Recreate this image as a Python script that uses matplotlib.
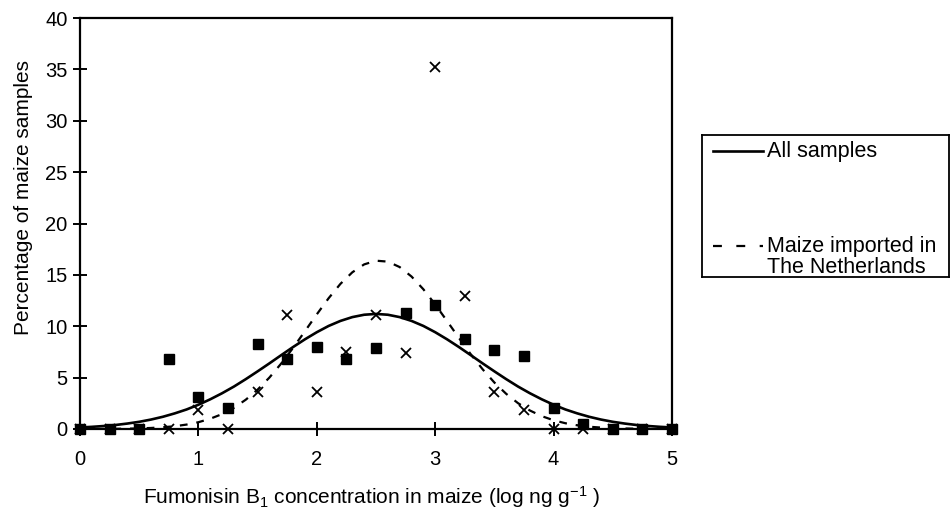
import matplotlib
matplotlib.use('Agg')
import matplotlib.pyplot as plt
from matplotlib.lines import Line2D

plt.rcParams['font.family'] = ['Liberation Sans', 'DejaVu Sans']
plt.rcParams['mathtext.fontset'] = 'custom'
plt.rcParams['mathtext.rm'] = 'Liberation Sans'
plt.rcParams['mathtext.default'] = 'regular'

# concentration classes (log ng/g) and observed percentages
conc_classes = [0, 0.25, 0.5, 0.75, 1.0, 1.25, 1.5, 1.75, 2.0, 2.25, 2.5,
                2.75, 3.0, 3.25, 3.5, 3.75, 4.0, 4.25, 4.5, 4.75, 5.0]
pct_all = [0, 0, 0, 6.8, 3.1, 2.0, 8.3, 6.8, 8.0, 6.8, 7.9,
           11.3, 12.1, 8.8, 7.7, 7.1, 2.0, 0.5, 0, 0, 0]
pct_nl = [0, 0, 0, 0, 1.85, 0, 3.6, 11.1, 3.6, 7.5, 11.1,
          7.4, 35.2, 12.9, 3.6, 1.85, 0, 0, 0, 0, 0]

# fitted distributions
curve_x = [0.0, 0.1, 0.2, 0.3, 0.4, 0.5, 0.6, 0.7, 0.8, 0.9,
           1.0, 1.1, 1.2, 1.3, 1.4, 1.5, 1.6, 1.7, 1.8, 1.9,
           2.0, 2.1, 2.2, 2.3, 2.4, 2.5, 2.6, 2.7, 2.8, 2.9,
           3.0, 3.1, 3.2, 3.3, 3.4, 3.5, 3.6, 3.7, 3.8, 3.9,
           4.0, 4.1, 4.2, 4.3, 4.4, 4.5, 4.6, 4.7, 4.8, 4.9, 5.0]
fit_all = [0.15, 0.21, 0.29, 0.39, 0.53, 0.70, 0.92, 1.19, 1.52, 1.90,
           2.36, 2.89, 3.48, 4.13, 4.85, 5.61, 6.39, 7.19, 7.98, 8.73,
           9.42, 10.03, 10.52, 10.89, 11.12, 11.20, 11.12, 10.89, 10.52, 10.03,
           9.42, 8.73, 7.98, 7.19, 6.39, 5.61, 4.85, 4.13, 3.48, 2.89,
           2.36, 1.90, 1.52, 1.19, 0.92, 0.70, 0.53, 0.39, 0.29, 0.21, 0.15]
fit_nl = [0.00, 0.01, 0.01, 0.02, 0.03, 0.06, 0.10, 0.17, 0.27, 0.43,
          0.66, 1.00, 1.45, 2.06, 2.85, 3.83, 5.01, 6.38, 7.90, 9.52,
          11.16, 12.73, 14.13, 15.25, 16.02, 16.38, 16.29, 15.76, 14.84, 13.60,
          12.12, 10.51, 8.87, 7.28, 5.82, 4.52, 3.42, 2.51, 1.80, 1.25,
          0.85, 0.56, 0.36, 0.22, 0.14, 0.08, 0.05, 0.03, 0.01, 0.01, 0.00]

TICK_FS = 14.5
LABEL_FS = 15
LEG_FS = 15.5

fig = plt.figure(figsize=(9.51, 5.13), dpi=100)
ax = fig.add_axes([80 / 951, 1 - 429 / 513, 592 / 951, 411 / 513])

ax.plot(curve_x, fit_all, color='black', lw=1.9, solid_capstyle='round')
ax.plot(curve_x, fit_nl, color='black', lw=1.6, linestyle=(0, (3.5, 4)))
ax.plot(conc_classes, pct_all, linestyle='none', marker='s', ms=6.5,
        color='black', clip_on=False, zorder=3)
ax.plot(conc_classes, pct_nl, linestyle='none', marker='x', ms=7,
        mew=1.3, color='black', clip_on=False, zorder=3)

ax.set_xlim(0, 5)
ax.set_ylim(0, 40)
ax.set_xticks(range(0, 6))
ax.set_yticks(range(0, 41, 5))
ax.tick_params(axis='both', direction='inout', length=10, width=1.4,
               labelsize=TICK_FS)
ax.tick_params(axis='x', pad=10)
ax.tick_params(axis='y', pad=4)
for sp in ax.spines.values():
    sp.set_linewidth(1.6)

ax.set_ylabel('Percentage of maize samples', fontsize=LABEL_FS)
ax.yaxis.set_label_coords(-0.079, 0.564)
ax.set_xlabel('Fumonisin B$_1$ concentration in maize (log ng g$^{-1}$ )',
              fontsize=LABEL_FS)
ax.xaxis.set_label_coords(0.493, -0.135)

# legend box
lg = fig.add_axes([702 / 951, 1 - 277 / 513, 247 / 951, 142 / 513])
lg.set_xlim(0, 1)
lg.set_ylim(0, 1)
lg.set_xticks([])
lg.set_yticks([])
for sp in lg.spines.values():
    sp.set_linewidth(1.3)
lg.add_line(Line2D([0.043, 0.247], [0.885, 0.885], color='black', lw=1.9))
lg.add_line(Line2D([0.043, 0.247], [0.215, 0.215], color='black', lw=1.6,
                   linestyle=(0, (4, 6.5))))
lg.text(0.265, 0.885, 'All samples', fontsize=LEG_FS, va='center', ha='left')
lg.text(0.265, 0.215, 'Maize imported in', fontsize=LEG_FS, va='center',
        ha='left')
lg.text(0.265, 0.065, 'The Netherlands', fontsize=LEG_FS, va='center',
        ha='left')

fig.savefig('out.png', dpi=100)
